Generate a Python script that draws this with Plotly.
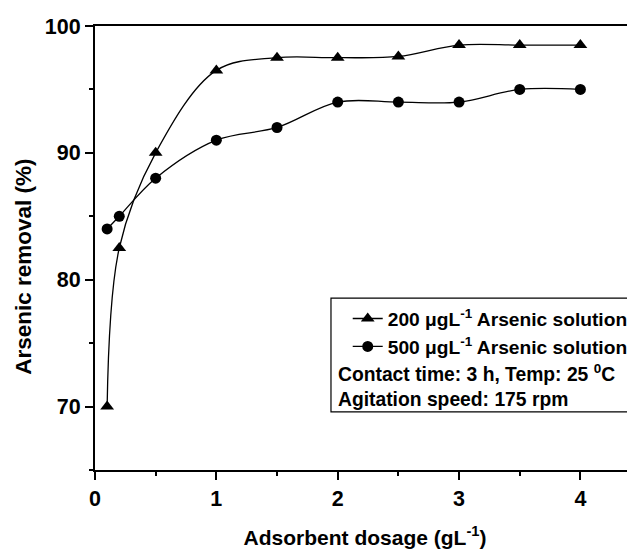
import plotly.graph_objects as go

dosage = [0.1, 0.2, 0.5, 1.0, 1.5, 2.0, 2.5, 3.0, 3.5, 4.0]
removal_200 = [70.0, 82.5, 90.0, 96.5, 97.5, 97.5, 97.6, 98.5, 98.5, 98.5]
removal_500 = [84.0, 85.0, 88.0, 91.0, 92.0, 94.0, 94.0, 94.0, 95.0, 95.0]
name_200 = "200 μgL<sup>-1</sup> Arsenic solution"
name_500 = "500 μgL<sup>-1</sup> Arsenic solution"
note_lines = ["Contact time: 3 h, Temp: 25 <sup>0</sup>C", "Agitation speed: 175 rpm"]
x_ticks = [0, 1, 2, 3, 4]
y_ticks = [70, 80, 90, 100]
x_title = "Adsorbent dosage (gL<sup>-1</sup>)"
y_title = "Arsenic removal (%)"

FONT = "Arial, Liberation Sans, sans-serif"

def bfont(size):
    return dict(family=FONT, size=size, color="black", weight="bold")

fig = go.Figure()
fig.add_trace(go.Scatter(
    x=dosage, y=removal_200, name=name_200, mode="lines+markers",
    line=dict(color="black", width=1.3, shape="spline", smoothing=1.0),
    marker=dict(symbol="triangle-up", size=12, color="black"),
))
fig.add_trace(go.Scatter(
    x=dosage, y=removal_500, name=name_500, mode="lines+markers",
    line=dict(color="black", width=1.3, shape="spline", smoothing=1.0),
    marker=dict(symbol="circle", size=11, color="black"),
))

# legend box
fig.add_shape(type="rect", xref="paper", yref="paper",
              x0=0.437, x1=0.991, y0=0.131, y1=0.387,
              line=dict(color="black", width=1.2), fillcolor="rgba(0,0,0,0)")
for i, txt in enumerate(note_lines):
    fig.add_annotation(xref="paper", yref="paper", x=0.447, y=0.219 - i * 0.061,
                       text=txt, showarrow=False, xanchor="left", yanchor="middle",
                       font=bfont(19.3))

# y-axis title (sits slightly below the plot centre in the reference)
fig.add_annotation(xref="paper", yref="paper", x=-0.133, y=0.458,
                   text=y_title, textangle=-90, showarrow=False,
                   xanchor="center", yanchor="middle", font=bfont(22.5))

fig.update_layout(
    width=627, height=541,
    margin=dict(l=87, r=0, t=18, b=79, autoexpand=False),
    paper_bgcolor="white", plot_bgcolor="white",
    font=dict(family=FONT, color="black"),
    showlegend=True,
    legend=dict(x=0.468, y=0.384, xanchor="left", yanchor="top",
                bgcolor="rgba(0,0,0,0)", borderwidth=0,
                font=bfont(19.2), itemwidth=30, tracegroupgap=0),
)
fig.update_xaxes(
    range=[0, 4.45], tickvals=x_ticks, ticktext=[str(v) for v in x_ticks],
    ticks="outside", ticklen=8, tickwidth=2, tickcolor="black",
    showline=True, linewidth=2, linecolor="black", mirror=True,
    showgrid=False, zeroline=False, automargin=False,
    tickfont=bfont(21.5),
    minor=dict(tickvals=[0.5, 1.5, 2.5, 3.5], ticks="outside", ticklen=4, tickwidth=2, tickcolor="black"),
    title=dict(text=x_title, font=bfont(21), standoff=25),
)
fig.update_yaxes(
    range=[65, 100], tickvals=y_ticks, ticktext=[str(v) for v in y_ticks],
    ticks="outside", ticklen=8, tickwidth=2, tickcolor="black",
    showline=True, linewidth=2, linecolor="black", mirror=False,
    showgrid=False, zeroline=False, automargin=False,
    tickfont=bfont(21.5),
    minor=dict(tickvals=[65, 75, 85, 95], ticks="outside", ticklen=4, tickwidth=2, tickcolor="black"),
)

fig.write_html("out.html")
